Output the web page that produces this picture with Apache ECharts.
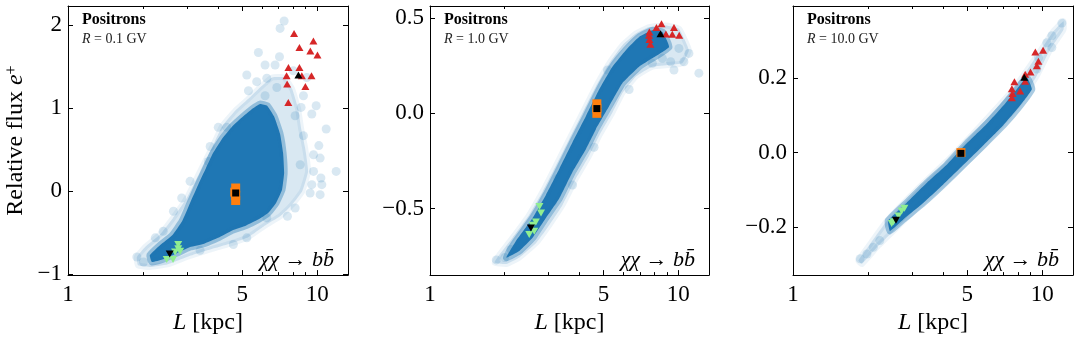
<!DOCTYPE html>
<html>
<head>
<meta charset="utf-8">
<script src="https://cdn.jsdelivr.net/npm/echarts@6/dist/echarts.min.js"></script>
<style>
  html, body { margin: 0; padding: 0; background: #fff; }
  #chart { width: 1079px; height: 340px; }
</style>
</head>
<body>
<div id="chart"></div>
<script>
// values: [L in kpc, relative flux]
var rigidity = ['0.1', '1.0', '10.0'];
var xLabelTicks = [1, 5, 10];
var xMinorTicks = [2, 3, 4, 6, 7, 8, 9];
var yTicks = [[-1, 0, 1, 2], [-0.5, 0, 0.5], [-0.2, 0, 0.2]];
var xMax = [13.3, 13.3, 13.3];
var yRange = [[-1.008, 2.23], [-0.85, 0.564], [-0.33, 0.395]];

// panel 1, R = 0.1 GV
var p1Core = [[2.13,-0.77],[2.34,-0.65],[2.62,-0.53],[2.87,-0.36],[3.09,-0.14],[3.33,0.08],[3.58,0.28],[3.82,0.46],[4.15,0.63],[4.56,0.78],[5.04,0.90],[5.48,0.99],[5.90,1.05],[6.30,1.03],[6.72,0.90],[7.10,0.69],[7.30,0.46],[7.37,0.22],[7.23,0.02],[6.84,-0.14],[6.36,-0.26],[5.79,-0.34],[5.19,-0.41],[4.56,-0.47],[4.00,-0.56],[3.52,-0.63],[3.09,-0.67],[2.71,-0.75],[2.39,-0.82],[2.17,-0.85]];
var p1Halo = [[1.89,-0.79],[2.04,-0.67],[2.34,-0.52],[2.64,-0.32],[3.00,-0.08],[3.39,0.24],[3.82,0.55],[4.15,0.78],[4.69,0.97],[5.28,1.11],[5.90,1.25],[6.60,1.37],[7.37,1.37],[7.94,1.23],[8.39,0.99],[8.62,0.76],[8.95,0.52],[9.20,0.24],[8.71,0.0],[7.94,-0.16],[7.10,-0.30],[6.18,-0.41],[5.23,-0.56],[4.35,-0.64],[3.62,-0.71],[3.00,-0.79],[2.50,-0.88],[2.13,-0.91],[1.91,-0.89]];
var p1Scatter = [[7.37,2.05],[7.10,1.96],[5.81,1.67],[7.06,1.62],[6.18,1.52],[6.78,1.52],[8.03,1.45],[5.22,1.40],[6.28,1.36],[5.72,1.32],[6.89,1.25],[5.30,1.21],[6.18,1.15],[9.09,1.37],[8.81,1.15],[9.91,1.03],[8.62,1.01],[9.52,0.93],[8.16,0.91],[10.87,0.75],[8.81,0.67],[10.16,0.55],[9.67,0.44],[10.28,0.40],[8.55,0.32],[9.67,0.24],[11.92,0.24],[10.35,0.16],[10.44,0.08],[9.52,0.08],[10.28,-0.04],[9.37,-0.02],[8.16,-0.20],[7.60,-0.30],[4.01,0.77],[4.34,0.77],[3.72,0.54],[3.66,0.36],[3.09,0.12],[2.86,-0.08],[2.65,-0.24],[2.41,-0.48],[2.24,-0.56],[1.89,-0.79],[2.01,-0.85],[3.39,-0.71],[4.61,-0.64],[6.28,-0.32],[5.22,-0.56]];
var p1High = [[8.08,1.90],[9.66,1.81],[8.49,1.73],[9.39,1.69],[10.03,1.64],[7.67,1.49],[8.49,1.49],[7.54,1.39],[8.68,1.39],[9.49,1.39],[7.58,1.29],[8.97,1.26],[7.66,1.07]];
var p1HighMean = [[8.41,1.40]];
var p1Low = [[2.77,-0.64],[2.77,-0.69],[2.69,-0.73],[2.82,-0.72],[2.49,-0.82],[2.64,-0.82]];
var p1LowMean = [[2.56,-0.755]];
var p1Fid = [[4.71,0.04],[4.71,-0.05],[4.71,-0.11],[4.67,-0.01]];
var p1FidMean = [[4.71,-0.02]];

// panel 2, R = 1.0 GV
var p2Core = [[2.22,-0.671],[2.59,-0.550],[2.93,-0.429],[3.32,-0.291],[3.75,-0.152],[4.25,-0.014],[4.80,0.125],[5.43,0.245],[6.15,0.332],[6.95,0.401],[7.86,0.436],[8.63,0.427],[9.18,0.349],[7.86,0.289],[6.95,0.245],[5.96,0.159],[5.27,0.038],[4.66,-0.083],[4.25,-0.187],[3.75,-0.308],[3.32,-0.446],[2.93,-0.550],[2.59,-0.654],[2.29,-0.723],[2.03,-0.758]];
var p2Halo = [[1.91,-0.741],[2.15,-0.654],[2.51,-0.533],[2.84,-0.412],[3.22,-0.273],[3.64,-0.135],[4.12,0.004],[4.66,0.142],[5.27,0.263],[5.96,0.358],[6.75,0.419],[7.63,0.453],[8.90,0.462],[10.06,0.445],[11.04,0.332],[10.38,0.263],[9.18,0.254],[7.86,0.245],[6.75,0.194],[5.96,0.107],[5.43,0.004],[4.80,-0.118],[4.38,-0.222],[3.87,-0.343],[3.42,-0.481],[3.03,-0.585],[2.68,-0.680],[2.29,-0.758],[2.03,-0.792],[1.82,-0.784]];
var p2Scatter = [[1.85,-0.770],[2.00,-0.758],[2.12,-0.715],[2.29,-0.689],[11.04,0.315],[12.11,0.211],[10.54,0.271],[9.61,0.228],[9.32,0.271],[6.34,0.125],[7.86,0.263],[10.06,0.341],[8.63,0.289],[5.19,0.228],[4.58,-0.178],[3.27,-0.343],[3.75,-0.377],[3.12,-0.463]];
var p2High = [[8.56,0.471],[8.17,0.451],[9.61,0.451],[7.65,0.427],[7.63,0.41],[8.92,0.417],[9.46,0.415],[10.09,0.41],[7.65,0.388],[7.72,0.363]];
var p2HighMean = [[8.48,0.418]];
var p2Low = [[2.76,-0.489],[2.80,-0.524],[2.67,-0.571],[2.59,-0.588],[2.51,-0.637],[2.63,-0.619]];
var p2LowMean = [[2.55,-0.602]];
var p2Fid = [[4.70,0.05],[4.70,0.0],[4.70,0.025]];
var p2FidMean = [[4.70,0.025]];

// panel 3, R = 10.0 GV
var p3Core = [[2.41,-0.184],[2.86,-0.135],[3.44,-0.082],[4.14,-0.033],[4.98,0.025],[6.00,0.078],[6.99,0.127],[7.91,0.171],[8.68,0.203],[9.09,0.171],[8.16,0.127],[6.99,0.074],[5.81,0.020],[4.83,-0.033],[4.01,-0.086],[3.34,-0.135],[2.77,-0.180],[2.45,-0.211]];
var p3Halo = [[1.83,-0.291],[2.04,-0.246],[2.38,-0.184],[3.24,-0.091],[4.40,-0.006],[6.00,0.091],[7.67,0.171],[8.95,0.234],[10.12,0.287],[11.10,0.327],[12.18,0.354],[12.18,0.331],[10.77,0.278],[9.52,0.207],[8.16,0.136],[6.00,0.029],[4.40,-0.060],[3.24,-0.140],[2.53,-0.211],[2.17,-0.255],[1.89,-0.300]];
var p3Scatter = [[1.86,-0.286],[1.98,-0.273],[2.10,-0.255],[2.23,-0.237],[12.0,0.349],[10.94,0.315],[10.44,0.296],[10.94,0.283],[9.67,0.256],[9.52,0.225]];
var p3High = [[10.09,0.276],[9.39,0.271],[9.66,0.246],[9.52,0.234],[8.98,0.217],[8.55,0.211],[8.55,0.192],[7.74,0.191],[7.56,0.172],[8.16,0.166],[7.60,0.159],[7.56,0.148]];
var p3HighMean = [[8.48,0.203]];
var p3Low = [[2.80,-0.150],[2.73,-0.157],[2.65,-0.171],[2.53,-0.186],[2.49,-0.191]];
var p3LowMean = [[2.59,-0.182]];
var p3Fid = [[4.72,0.0]];
var p3FidMean = [[4.72,-0.002]];

var panels = [
  {core: p1Core, halo: p1Halo, pts: p1Scatter, high: p1High, highMean: p1HighMean, low: p1Low, lowMean: p1LowMean, fid: p1Fid, fidMean: p1FidMean},
  {core: p2Core, halo: p2Halo, pts: p2Scatter, high: p2High, highMean: p2HighMean, low: p2Low, lowMean: p2LowMean, fid: p2Fid, fidMean: p2FidMean},
  {core: p3Core, halo: p3Halo, pts: p3Scatter, high: p3High, highMean: p3HighMean, low: p3Low, lowMean: p3LowMean, fid: p3Fid, fidMean: p3FidMean}
];

var serif = '"Liberation Serif", "DejaVu Serif", serif';
var gridBoxes = [{left: 68, width: 280}, {left: 430, width: 279}, {left: 793, width: 280}];
var blue = '#1f77b4';

function minus(s) { return String(s).replace('-', '\u2212'); }

var grids = [], xAxes = [], yAxes = [], series = [], graphics = [];

gridBoxes.forEach(function (b, k) {
  grids.push({left: b.left, top: 6, width: b.width, height: 272, show: false});

  var lmax = Math.log10(xMax[k]);
  var major = xLabelTicks.map(Math.log10);
  var minor = xMinorTicks.map(Math.log10);
  var tickAxis = function (pos, vals, len, labels, line) {
    return {
      gridIndex: k, type: 'value', position: pos, min: 0, max: lmax, silent: true,
      splitLine: {show: false},
      axisLine: {show: line, onZero: false, lineStyle: {color: '#000', width: 1}},
      axisTick: {show: true, inside: true, length: len, customValues: vals, lineStyle: {color: '#000', width: 1}},
      axisLabel: labels ? {
        customValues: vals, margin: 8, color: '#000', fontSize: 23, fontFamily: serif,
        formatter: function (v) { return String(Math.round(Math.pow(10, v))); }
      } : {show: false}
    };
  };
  // data axis (log) and display axes in log10 space
  xAxes.push({gridIndex: k, type: 'log', logBase: 10, min: 1, max: xMax[k], show: false, position: 'bottom'});
  var bottom = tickAxis('bottom', major, 5, true, true);
  bottom.name = '{i|L} [kpc]';
  bottom.nameLocation = 'middle';
  bottom.nameGap = 31;
  bottom.nameTextStyle = {color: '#000', fontSize: 24, fontFamily: serif,
    rich: {i: {fontStyle: 'italic', fontSize: 24, fontFamily: serif, color: '#000'}}};
  xAxes.push(bottom);
  xAxes.push(tickAxis('bottom', minor, 3, false, false));
  xAxes.push(tickAxis('top', major, 5, false, true));
  xAxes.push(tickAxis('top', minor, 3, false, false));

  var yl = {
    gridIndex: k, type: 'value', position: 'left', min: yRange[k][0], max: yRange[k][1],
    splitLine: {show: false},
    axisLine: {show: true, onZero: false, lineStyle: {color: '#000', width: 1}},
    axisTick: {inside: true, length: 5, customValues: yTicks[k], lineStyle: {color: '#000'}},
    axisLabel: {
      customValues: yTicks[k], margin: 6, color: '#000', fontSize: 23, fontFamily: serif,
      formatter: function (v) { return minus(k === 0 ? String(v) : v.toFixed(1)); }
    }
  };
  if (k === 0) {
    yl.name = '{n|Relative flux }{e|e}{p|+}';
    yl.nameLocation = 'middle';
    yl.nameGap = 40;
    yl.nameTextStyle = {color: '#000', fontSize: 24, fontFamily: serif,
      rich: {
        n: {fontSize: 24, fontFamily: serif, color: '#000'},
        e: {fontSize: 24, fontFamily: serif, fontStyle: 'italic', color: '#000'},
        p: {fontSize: 16, fontFamily: serif, color: '#000', verticalAlign: 'top'}
      }};
  }
  yAxes.push(yl);
  yAxes.push({
    gridIndex: k, type: 'value', position: 'right', min: yRange[k][0], max: yRange[k][1],
    splitLine: {show: false},
    axisLine: {show: true, onZero: false, lineStyle: {color: '#000', width: 1}},
    axisTick: {inside: true, length: 5, customValues: yTicks[k], lineStyle: {color: '#000'}},
    axisLabel: {show: false}
  });

  var p = panels[k];
  var xi = k * 5, yi = k * 2;
  var poly = function (pts, style, z) {
    return {
      type: 'custom', xAxisIndex: xi, yAxisIndex: yi, z: z, silent: true, data: pts,
      renderItem: function (params, api) {
        if (params.dataIndex !== 0) return null;
        return {
          type: 'polygon',
          shape: {points: pts.map(function (q) { return api.coord(q); }), smooth: 0.12},
          style: style
        };
      }
    };
  };
  var sc = function (data, symbol, size, color, z, rot) {
    return {
      type: 'scatter', xAxisIndex: xi, yAxisIndex: yi, z: z, silent: true,
      symbol: symbol, symbolSize: size, symbolRotate: rot || 0,
      itemStyle: {color: color, opacity: 1}, data: data
    };
  };
  series.push(poly(p.halo, {fill: 'rgba(31,119,180,0.17)', stroke: 'rgba(31,119,180,0.08)', lineWidth: 6, lineJoin: 'round'}, 1));
  series.push(sc(p.pts, 'circle', 9, 'rgba(31,119,180,0.17)', 2));
  series.push(poly(p.core, {fill: blue, stroke: 'rgba(31,119,180,0.38)', lineWidth: 7, lineJoin: 'round'}, 3));
  series.push(sc(p.low, 'triangle', [8, 7], '#90ee90', 5, 180));
  series.push(sc(p.high, 'triangle', [8, 7], '#d62728', 5));
  series.push(sc(p.fid, 'rect', 9, '#ff7f0e', 5));
  series.push(sc(p.lowMean, 'triangle', [8, 7], '#000', 6, 180));
  series.push(sc(p.highMean, 'triangle', [8, 7], '#000', 6));
  series.push(sc(p.fidMean, 'rect', 7, '#000', 6));

  var lx = b.left + 14;
  graphics.push({type: 'text', x: lx, y: 20, z: 10, style: {
    text: 'Positrons', fontSize: 16, fontWeight: 'bold', fontFamily: serif, fill: '#000', verticalAlign: 'middle'}});
  graphics.push({type: 'text', x: lx, y: 39, z: 10, style: {
    text: '{i|R} = ' + rigidity[k] + ' GV', fontSize: 14, fontFamily: serif, fill: '#222', verticalAlign: 'middle',
    rich: {i: {fontStyle: 'italic', fontSize: 14, fontFamily: serif, fill: '#222'}}}});
  graphics.push({type: 'text', x: b.left + b.width - 14, y: 260, z: 10, style: {
    text: '{i|\u03c7\u03c7} \u2192 {i|bb\u0304}', fontSize: 22, fontFamily: serif, fill: '#000',
    align: 'right', verticalAlign: 'middle',
    rich: {i: {fontStyle: 'italic', fontSize: 22, fontFamily: serif, fill: '#000'}}}});
});

var myChart = echarts.init(document.getElementById('chart'), null, {renderer: 'canvas'});
myChart.setOption({
  animation: false,
  backgroundColor: '#fff',
  grid: grids,
  xAxis: xAxes,
  yAxis: yAxes,
  series: series,
  graphic: graphics
});
</script>
</body>
</html>
